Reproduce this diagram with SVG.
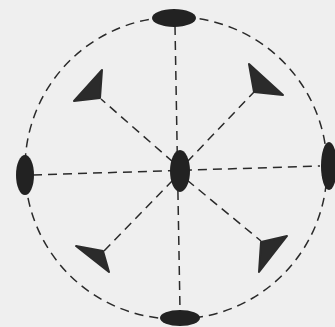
<svg xmlns="http://www.w3.org/2000/svg" width="335" height="327" viewBox="0 0 335 327">
<style>
.d{fill:none;stroke:#2a2a2a;stroke-width:1.5;stroke-dasharray:9 6}
.b{fill:#222;}
.t{fill:#2b2b2b;stroke:#2b2b2b;stroke-width:2;stroke-linejoin:round}
</style>
<rect width="335" height="327" fill="#efefef"/>
<g id="connectors">
<circle class="d" cx="176" cy="168" r="151"/>
<line class="d" x1="175" y1="26" x2="180" y2="310"/>
<line class="d" x1="33" y1="175" x2="320" y2="166"/>
<line class="d" x1="173" y1="162" x2="101" y2="99"/>
<line class="d" x1="187" y1="162" x2="254" y2="92"/>
<line class="d" x1="173" y1="180" x2="104" y2="251"/>
<line class="d" x1="187" y1="180" x2="261" y2="241"/>
</g>
<g id="top"><ellipse class="b" cx="174" cy="18" rx="22" ry="9"/></g>
<g id="bottom"><ellipse class="b" cx="180" cy="318" rx="20" ry="8"/></g>
<g id="left"><ellipse class="b" cx="25" cy="175" rx="9" ry="20"/></g>
<g id="right"><ellipse class="b" cx="329" cy="166" rx="8" ry="24"/></g>
<g id="center"><ellipse class="b" cx="180" cy="171" rx="10" ry="21"/></g>
<g id="tri-tl"><polygon class="t" points="102,70 74,101 100,98"/></g>
<g id="tri-tr"><polygon class="t" points="249,64 254,92 283,95"/></g>
<g id="tri-bl"><polygon class="t" points="76,246 103,251 109,272"/></g>
<g id="tri-br"><polygon class="t" points="287,236 261,242 259,272"/></g>
</svg>
